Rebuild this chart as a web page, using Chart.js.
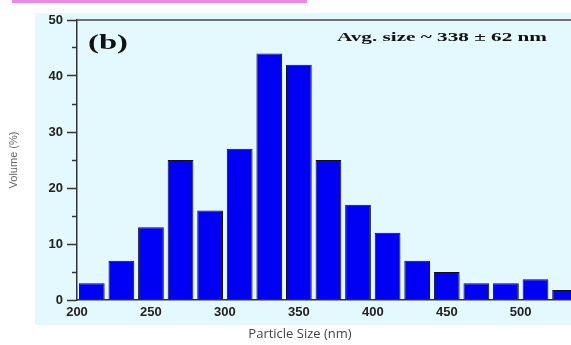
<!DOCTYPE html>
<html>
<head>
<meta charset="utf-8">
<script src="https://cdn.jsdelivr.net/npm/chart.js@4/dist/chart.umd.min.js"></script>
<style>
  body { margin: 0; background: #fff; }
  canvas { display: block; }
</style>
</head>
<body>
<canvas id="grafico" width="571" height="345"></canvas>
<script>
// dados
var tamanhos = [210, 230, 250, 270, 290, 310, 330, 350, 370, 390, 410, 430, 450, 470, 490, 510, 530];
var volumes = [3, 7, 13, 25, 16, 27, 44, 42, 25, 17, 12, 7, 5, 3, 3, 3.7, 1.8];
var xTicks = [200, 250, 300, 350, 400, 450, 500];
var yTicks = [0, 5, 10, 15, 20, 25, 30, 35, 40, 45, 50];

var pontos = tamanhos.map(function (t, i) { return { x: t, y: volumes[i] }; });

// fundo, linha rosa, borda de cima e textos
var enfeites = {
  id: 'enfeites',
  beforeDraw: function (chart) {
    var ctx = chart.ctx;
    ctx.save();
    ctx.fillStyle = '#e3f9fd';
    ctx.fillRect(35, 13, 536, 312);
    ctx.fillStyle = '#e98ae6';
    ctx.fillRect(12, 0, 295, 3);
    ctx.restore();
  },
  afterDraw: function (chart) {
    var ctx = chart.ctx;
    var a = chart.chartArea;
    ctx.save();
    ctx.strokeStyle = '#444';
    ctx.lineWidth = 1.5;
    ctx.beginPath();
    ctx.moveTo(a.left, a.top);
    ctx.lineTo(a.right, a.top);
    ctx.stroke();

    ctx.fillStyle = '#111';
    ctx.textBaseline = 'alphabetic';
    // (b)
    ctx.font = 'bold 22px "Liberation Serif"';
    var w = ctx.measureText('(b)').width;
    ctx.save();
    ctx.translate(88, 49);
    ctx.scale(40 / w, 1);
    ctx.fillText('(b)', 0, 0);
    ctx.restore();
    // tamanho medio
    ctx.font = 'bold 13px "Liberation Serif"';
    var txt = 'Avg. size ~ 338 \u00b1 62 nm';
    w = ctx.measureText(txt).width;
    ctx.save();
    ctx.translate(337, 41);
    ctx.scale(210 / w, 1);
    ctx.fillText(txt, 0, 0);
    ctx.restore();
    // titulo eixo x
    ctx.fillStyle = '#444';
    ctx.font = '13px "Open Sans"';
    ctx.textAlign = 'center';
    ctx.textBaseline = 'middle';
    ctx.fillText('Particle Size (nm)', 300, 334);
    ctx.restore();
  }
};

var ctx = document.getElementById('grafico').getContext('2d');
var grafico = new Chart(ctx, {
  type: 'bar',
  data: {
    datasets: [{
      label: 'Volume (%)',
      data: pontos,
      backgroundColor: '#0000f5',
      borderColor: '#111',
      borderWidth: 1,
      barPercentage: 0.87,
      categoryPercentage: 1.0
    }]
  },
  options: {
    responsive: false,
    animation: false,
    layout: { padding: { top: 20, right: 0, left: 0, bottom: 0 } },
    plugins: {
      legend: { display: false },
      tooltip: { enabled: false }
    },
    scales: {
      x: {
        type: 'linear',
        offset: false,
        min: 200,
        max: 534,
        afterBuildTicks: function (s) { s.ticks = xTicks.map(function (v) { return { value: v }; }); },
        afterFit: function (s) { s.height = 45; },
        grid: { drawOnChartArea: false, drawTicks: false, offset: false },
        border: { color: '#333', width: 1.5 },
        ticks: {
          padding: 5,
          color: '#222',
          font: { family: 'Liberation Sans', size: 13, weight: 'bold' },
          maxRotation: 0
        }
      },
      y: {
        min: 0,
        max: 50,
        afterBuildTicks: function (s) { s.ticks = yTicks.map(function (v) { return { value: v }; }); },
        afterFit: function (s) { s.width = 77; },
        grid: {
          drawOnChartArea: false,
          tickLength: 10,
          tickColor: '#333',
          tickWidth: 1.5,
          tickBorderDash: function (c) { return c.tick && c.tick.value % 10 ? [5, 5] : []; },
          tickBorderDashOffset: function (c) { return c.tick && c.tick.value % 10 ? 5 : 0; }
        },
        border: { color: '#333', width: 1.5 },
        title: {
          display: true,
          text: 'Volume (%)',
          color: '#666',
          font: { family: 'Liberation Sans', size: 11 },
          padding: { top: 7 }
        },
        ticks: {
          padding: 4,
          color: '#222',
          font: { family: 'Liberation Sans', size: 13, weight: 'bold' },
          callback: function (v) { return v % 10 === 0 ? v : ''; }
        }
      }
    }
  },
  plugins: [enfeites]
});
</script>
</body>
</html>
